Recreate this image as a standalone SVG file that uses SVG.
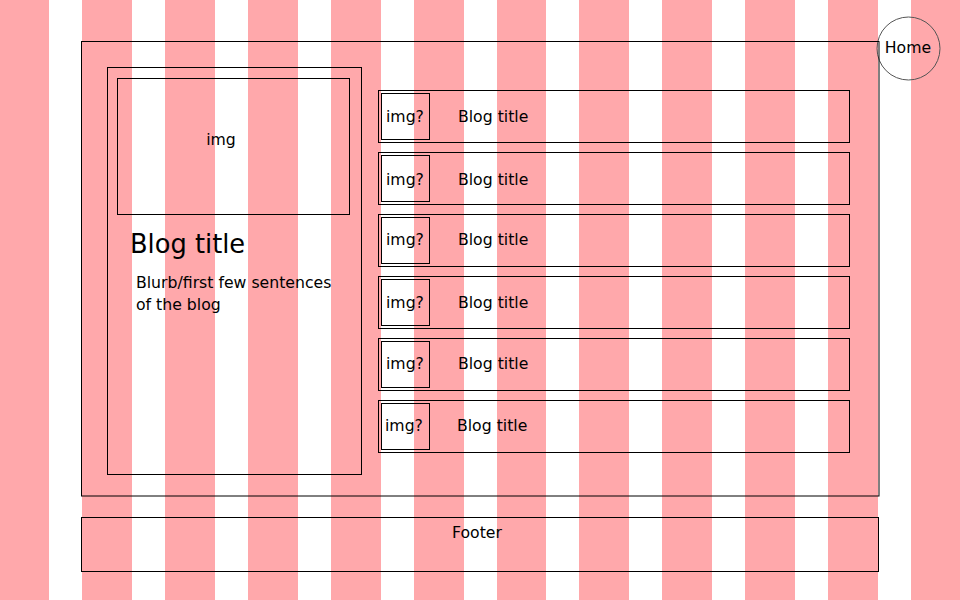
<svg xmlns="http://www.w3.org/2000/svg" width="960" height="600" viewBox="0 0 960 600">
<style>
.stripe{fill:#ffa8ab}
.box{fill:none;stroke:#000;stroke-width:1}
.t{font-family:"DejaVu Sans",Verdana,sans-serif;font-size:15.7px;fill:#000}
.c{text-anchor:middle}
</style>
<rect x="0" y="0" width="960" height="600" fill="#fff"/>
<g id="stripes">
<rect class="stripe" x="0" y="0" width="49" height="600"/>
<rect class="stripe" x="82" y="0" width="50" height="600"/>
<rect class="stripe" x="165" y="0" width="50" height="600"/>
<rect class="stripe" x="248" y="0" width="50" height="600"/>
<rect class="stripe" x="331" y="0" width="50" height="600"/>
<rect class="stripe" x="414" y="0" width="50" height="600"/>
<rect class="stripe" x="497" y="0" width="49" height="600"/>
<rect class="stripe" x="579" y="0" width="50" height="600"/>
<rect class="stripe" x="662" y="0" width="50" height="600"/>
<rect class="stripe" x="745" y="0" width="50" height="600"/>
<rect class="stripe" x="828" y="0" width="50" height="600"/>
<rect class="stripe" x="911" y="0" width="49" height="600"/>
</g>
<g id="home">
<circle cx="908.5" cy="48.5" r="31.5" fill="none" stroke="#555" stroke-width="1"/>
<text class="t c" x="908" y="53">Home</text>
</g>
<g id="main">
<rect class="box" x="81.5" y="41.5" width="797.5" height="454.5"/>
</g>
<g id="featured">
<rect class="box" x="107.5" y="67.5" width="254" height="407"/>
<rect class="box" x="117.5" y="78.5" width="232" height="136"/>
<text class="t c" x="221" y="145">img</text>
<text class="t" x="130" y="253" style="font-size:25.7px">Blog title</text>
<text class="t" x="136" y="288">Blurb/first few sentences</text>
<text class="t" x="136" y="310">of the blog</text>
</g>
<g id="row1">
<rect class="box" x="378.5" y="90.5" width="471" height="52"/>
<rect class="box" x="381.5" y="93.5" width="48" height="46"/>
<text class="t" x="386" y="122">img?</text>
<text class="t" x="458" y="122">Blog title</text>
</g>
<g id="row2">
<rect class="box" x="378.5" y="152.5" width="471" height="52"/>
<rect class="box" x="381.5" y="155.5" width="48" height="46"/>
<text class="t" x="386" y="185">img?</text>
<text class="t" x="458" y="185">Blog title</text>
</g>
<g id="row3">
<rect class="box" x="378.5" y="214.5" width="471" height="52"/>
<rect class="box" x="381.5" y="217.5" width="48" height="46"/>
<text class="t" x="386" y="245">img?</text>
<text class="t" x="458" y="245">Blog title</text>
</g>
<g id="row4">
<rect class="box" x="378.5" y="276.5" width="471" height="52"/>
<rect class="box" x="381.5" y="279.5" width="48" height="46"/>
<text class="t" x="386" y="308">img?</text>
<text class="t" x="458" y="308">Blog title</text>
</g>
<g id="row5">
<rect class="box" x="378.5" y="338.5" width="471" height="52"/>
<rect class="box" x="381.5" y="341.5" width="48" height="46"/>
<text class="t" x="386" y="369">img?</text>
<text class="t" x="458" y="369">Blog title</text>
</g>
<g id="row6">
<rect class="box" x="378.5" y="400.5" width="471" height="52"/>
<rect class="box" x="381.5" y="403.5" width="48" height="46"/>
<text class="t" x="385" y="431">img?</text>
<text class="t" x="457" y="431">Blog title</text>
</g>
<g id="footer">
<rect class="box" x="81.5" y="517.5" width="797" height="54"/>
<text class="t c" x="477" y="538">Footer</text>
</g>
<g id="connectors"></g>
</svg>
